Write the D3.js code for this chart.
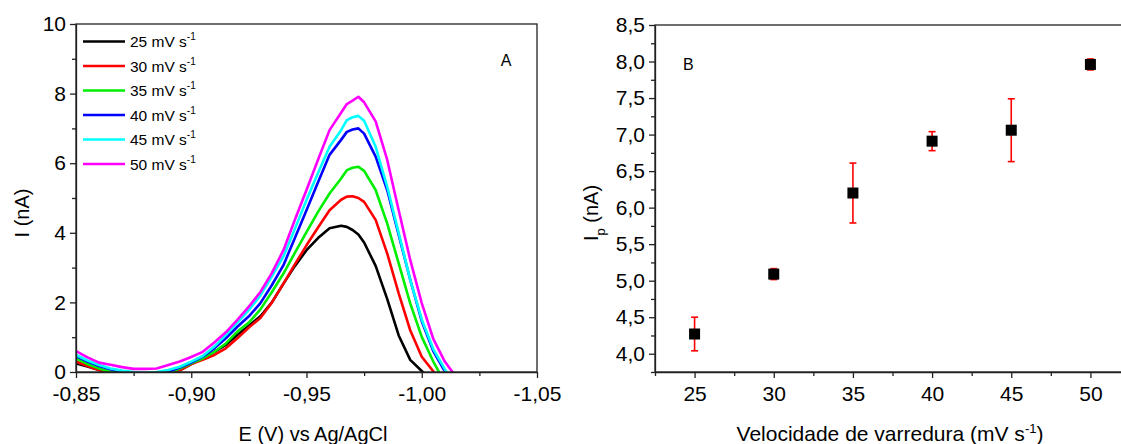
<!DOCTYPE html>
<html>
<head>
<meta charset="utf-8">
<script src="https://cdn.jsdelivr.net/npm/d3@7"></script>
<style>
  body { margin: 0; background: #fff; }
  text { font-family: "Liberation Sans", Arial, sans-serif; fill: #000; }
</style>
</head>
<body>
<script>
// potential (V vs Ag/AgCl)
var potentials = [-0.850, -0.855, -0.860, -0.865, -0.870, -0.875, -0.880, -0.885, -0.890, -0.895,
  -0.900, -0.905, -0.910, -0.915, -0.920, -0.925, -0.930, -0.935, -0.940, -0.945,
  -0.950, -0.955, -0.960, -0.965, -0.9675, -0.970, -0.9725, -0.975, -0.980, -0.985,
  -0.990, -0.995, -1.000, -1.005, -1.010, -1.015];

// current (nA) for each scan rate
var i25 = [0.25, 0.16, 0.06, -0.05, -0.10, -0.15, -0.15, -0.12, -0.08, 0.05,
  0.23, 0.39, 0.58, 0.78, 1.06, 1.33, 1.60, 2.00, 2.54, 3.05,
  3.50, 3.85, 4.13, 4.20, 4.17, 4.08, 3.95, 3.72, 3.05, 2.10,
  1.05, 0.35, 0.03, -0.30, -0.80, -1.20];
var i30 = [0.30, 0.17, 0.06, -0.05, -0.10, -0.15, -0.15, -0.12, -0.06, 0.05,
  0.23, 0.35, 0.49, 0.68, 0.97, 1.28, 1.55, 2.00, 2.54, 3.10,
  3.64, 4.15, 4.65, 4.95, 5.04, 5.05, 5.00, 4.89, 4.37, 3.41,
  2.26, 1.20, 0.44, 0.02, -0.50, -1.00];
var i35 = [0.39, 0.23, 0.10, 0.01, -0.05, -0.10, -0.10, -0.08, -0.03, 0.10,
  0.25, 0.39, 0.58, 0.82, 1.16, 1.42, 1.80, 2.30, 2.83, 3.43,
  4.02, 4.60, 5.13, 5.56, 5.80, 5.87, 5.90, 5.78, 5.23, 4.27,
  3.12, 1.97, 1.01, 0.30, -0.30, -0.80];
var i40 = [0.46, 0.30, 0.17, 0.08, 0.00, -0.05, -0.08, -0.05, 0.01, 0.13,
  0.27, 0.44, 0.68, 0.97, 1.30, 1.60, 1.98, 2.50, 3.07, 3.86,
  4.65, 5.45, 6.24, 6.67, 6.90, 6.97, 7.00, 6.85, 6.19, 5.23,
  3.94, 2.65, 1.46, 0.60, 0.02, -0.50];
var i45 = [0.49, 0.33, 0.20, 0.10, 0.04, 0.00, -0.02, 0.00, 0.06, 0.15,
  0.30, 0.46, 0.73, 1.06, 1.42, 1.78, 2.20, 2.75, 3.32, 4.12,
  4.94, 5.72, 6.47, 6.95, 7.24, 7.32, 7.36, 7.22, 6.47, 5.33,
  3.99, 2.65, 1.51, 0.66, 0.08, -0.40];
var i50 = [0.60, 0.42, 0.27, 0.21, 0.14, 0.09, 0.09, 0.10, 0.20, 0.30,
  0.43, 0.58, 0.85, 1.14, 1.50, 1.88, 2.30, 2.85, 3.50, 4.38,
  5.23, 6.10, 6.95, 7.45, 7.70, 7.80, 7.91, 7.75, 7.20, 6.10,
  4.65, 3.22, 1.98, 0.95, 0.30, -0.15];

var legendLabels = ["25", "30", "35", "40", "45", "50"];
var curveColors = ["#000000", "#ff0000", "#00ee00", "#0000ff", "#00ffff", "#ff00ff"];
var curves = [i25, i30, i35, i40, i45, i50];

// panel B
var scanRates = [25, 30, 35, 40, 45, 50];
var peakCurrents = [4.27, 5.09, 6.20, 6.91, 7.06, 7.96];
var peakErrors = [0.23, 0.075, 0.41, 0.13, 0.43, 0.075];

var xTicksA = [-0.85, -0.90, -0.95, -1.00, -1.05];
var xMinorA = [-0.875, -0.925, -0.975, -1.025];
var yTicksA = [0, 2, 4, 6, 8, 10];
var yMinorA = [1, 3, 5, 7, 9];
var xTicksB = [25, 30, 35, 40, 45, 50];
var xMinorB = [22.5, 27.5, 32.5, 37.5, 42.5, 47.5, 52.5];
var yTicksB = [4.0, 4.5, 5.0, 5.5, 6.0, 6.5, 7.0, 7.5, 8.0, 8.5];
var yMinorB = [3.75, 4.25, 4.75, 5.25, 5.75, 6.25, 6.75, 7.25, 7.75, 8.25];

var loc = d3.formatLocale({decimal: ",", thousands: ".", grouping: [3], currency: ["", ""], minus: "-"});

var svg = d3.select("body").append("svg")
  .attr("width", 1121).attr("height", 444);
svg.append("rect").attr("width", 1121).attr("height", 444).attr("fill", "#fff");

function drawAxes(g, x, y, xt, xm, yt, ym, xf, yf) {
  var x0 = x.range()[0], x1 = x.range()[1], y0 = y.range()[0], y1 = y.range()[1];
  g.append("g").attr("transform", "translate(0," + y0 + ")")
    .call(d3.axisBottom(x).tickValues(xt).tickSize(6).tickSizeOuter(0).tickPadding(8).tickFormat(xf));
  g.append("g").attr("transform", "translate(0," + y0 + ")")
    .call(d3.axisBottom(x).tickValues(xm).tickSize(4).tickFormat(""))
    .select(".domain").remove();
  g.append("g").attr("transform", "translate(" + x0 + ",0)")
    .call(d3.axisLeft(y).tickValues(yt).tickSize(6).tickSizeOuter(0).tickPadding(4).tickFormat(yf));
  g.append("g").attr("transform", "translate(" + x0 + ",0)")
    .call(d3.axisLeft(y).tickValues(ym).tickSize(4).tickFormat(""))
    .select(".domain").remove();
  g.selectAll(".tick text").attr("font-size", 21).attr("font-family", "Liberation Sans, Arial, sans-serif");
  g.selectAll(".tick line, .domain").attr("stroke", "#222").attr("stroke-width", 1.3);
  g.append("rect").attr("x", x0).attr("y", y1).attr("width", x1 - x0).attr("height", y0 - y1)
    .attr("fill", "none").attr("stroke", "#222").attr("stroke-width", 1.3);
}

// ---------- panel A ----------
var xA = d3.scaleLinear().domain([-0.85, -1.05]).range([76, 537]);
var yA = d3.scaleLinear().domain([0, 10]).range([372, 24]);
var gA = svg.append("g");

svg.append("clipPath").attr("id", "clipA").append("rect")
  .attr("x", 76).attr("y", 24).attr("width", 461).attr("height", 348);

var line = d3.line().x((d, i) => xA(potentials[i])).y(d => yA(d));
gA.append("g").attr("clip-path", "url(#clipA)")
  .selectAll("path").data(curves).enter().append("path")
  .attr("d", d => line(d))
  .attr("fill", "none")
  .attr("stroke", (d, i) => curveColors[i])
  .attr("stroke-width", 2.6)
  .attr("stroke-linejoin", "round");

drawAxes(gA, xA, yA, xTicksA, xMinorA, yTicksA, yMinorA, loc.format(".2f"), loc.format("d"));

var leg = gA.selectAll(".leg").data(legendLabels).enter().append("g")
  .attr("transform", (d, i) => "translate(0," + (41.5 + i * 24.5) + ")");
leg.append("line").attr("x1", 83).attr("x2", 125).attr("y1", 0).attr("y2", 0)
  .attr("stroke", (d, i) => curveColors[i]).attr("stroke-width", 2.6);
var lt = leg.append("text").attr("x", 130).attr("y", 5.5).attr("font-size", 15.5);
lt.append("tspan").text(d => d + " mV s");
lt.append("tspan").attr("font-size", 10).attr("dy", -7).text("-1");

gA.append("text").attr("x", 506).attr("y", 66).attr("font-size", 16).attr("text-anchor", "middle").text("A");

svg.append("text").attr("x", 313).attr("y", 441).attr("text-anchor", "middle").attr("font-size", 20)
  .text("E (V) vs Ag/AgCl");
svg.append("text").attr("transform", "translate(29,213) rotate(-90)").attr("text-anchor", "middle")
  .attr("font-size", 20).text("I (nA)");

// ---------- panel B ----------
var xB = d3.scaleLinear().domain([22.5, 52.5]).range([655, 1130]);
var yB = d3.scaleLinear().domain([3.75, 8.5]).range([372, 25]);
var gB = svg.append("g");

drawAxes(gB, xB, yB, xTicksB, xMinorB, yTicksB, yMinorB, loc.format("d"), loc.format(".1f"));

var pts = gB.selectAll(".pt").data(scanRates).enter().append("g");
pts.append("line")
  .attr("x1", d => xB(d)).attr("x2", d => xB(d))
  .attr("y1", (d, i) => yB(peakCurrents[i] + peakErrors[i]))
  .attr("y2", (d, i) => yB(peakCurrents[i] - peakErrors[i]))
  .attr("stroke", "#ff0000").attr("stroke-width", 1.6);
[1, -1].forEach(function (s) {
  pts.append("line")
    .attr("x1", d => xB(d) - 3.5).attr("x2", d => xB(d) + 3.5)
    .attr("y1", (d, i) => yB(peakCurrents[i] + s * peakErrors[i]))
    .attr("y2", (d, i) => yB(peakCurrents[i] + s * peakErrors[i]))
    .attr("stroke", "#ff0000").attr("stroke-width", 1.6);
});
pts.append("rect")
  .attr("x", d => xB(d) - 5.5).attr("y", (d, i) => yB(peakCurrents[i]) - 5.5)
  .attr("width", 11).attr("height", 11).attr("fill", "#000");

gB.append("text").attr("x", 683).attr("y", 70).attr("font-size", 16).text("B");

var tb = svg.append("text").attr("x", 890).attr("y", 441).attr("text-anchor", "middle").attr("font-size", 21);
tb.append("tspan").text("Velocidade de varredura (mV s");
tb.append("tspan").attr("font-size", 13).attr("dy", -8).text("-1");
tb.append("tspan").attr("dy", 8).text(")");

var ty = svg.append("text").attr("transform", "translate(598,213) rotate(-90)").attr("text-anchor", "middle")
  .attr("font-size", 20);
ty.append("tspan").text("I");
ty.append("tspan").attr("font-size", 13).attr("dy", 7).text("p");
ty.append("tspan").attr("dy", -7).text(" (nA)");
</script>
</body>
</html>
